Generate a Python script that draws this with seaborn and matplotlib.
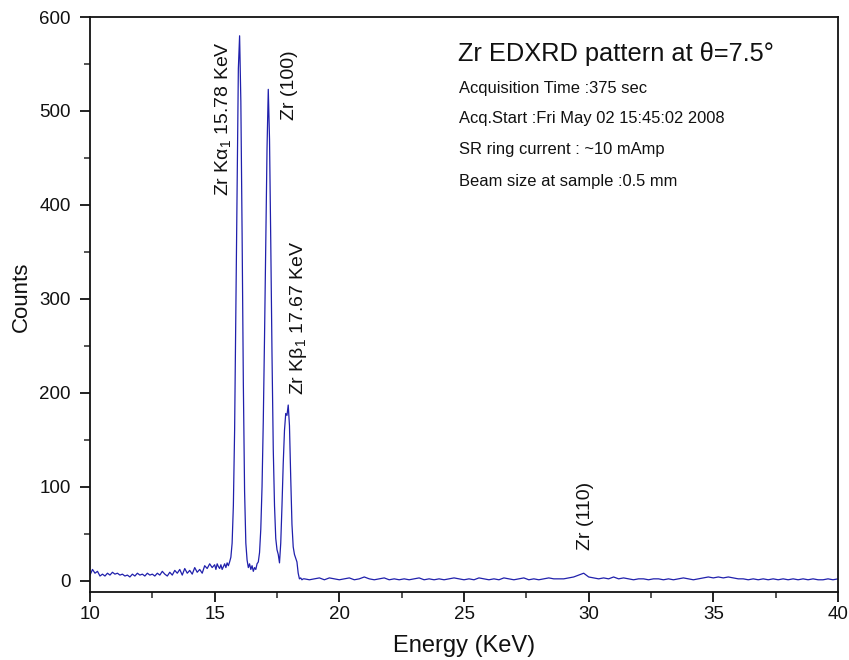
import matplotlib
matplotlib.use("Agg")
import matplotlib.pyplot as plt
from matplotlib.ticker import MultipleLocator
import seaborn as sns
import pandas as pd

# ---------------- data ----------------
energy_low = [10.0, 10.1, 10.2, 10.3, 10.4, 10.5, 10.6, 10.7, 10.8, 10.9,
              11.0, 11.1, 11.2, 11.3, 11.4, 11.5, 11.6, 11.7, 11.8, 11.9,
              12.0, 12.1, 12.2, 12.3, 12.4, 12.5, 12.6, 12.7, 12.8, 12.9,
              13.0, 13.1, 13.2, 13.3, 13.4, 13.5, 13.6, 13.7, 13.8, 13.9,
              14.0, 14.1, 14.2, 14.3, 14.4, 14.5, 14.6, 14.7, 14.8, 14.9,
              15.0]
counts_low = [6, 12, 8, 10, 5, 7, 5, 8, 6, 9,
              7, 8, 6, 7, 5, 6, 4, 7, 5, 8,
              6, 7, 5, 8, 6, 7, 5, 8, 6, 10,
              7, 5, 9, 6, 11, 8, 12, 6, 13, 8,
              11, 7, 14, 9, 12, 8, 16, 13, 18, 14,
              17]

energy_peak = [15.05, 15.10, 15.15, 15.20, 15.25, 15.30, 15.35, 15.40, 15.45, 15.50,
               15.55, 15.60, 15.65, 15.70, 15.75, 15.80, 15.85, 15.90, 15.95, 16.00,
               16.05, 16.10, 16.15, 16.20, 16.25, 16.30, 16.35, 16.40, 16.45, 16.50,
               16.55, 16.60, 16.65, 16.70, 16.75, 16.80, 16.85, 16.90, 16.95, 17.00,
               17.05, 17.10, 17.15, 17.20, 17.25, 17.30, 17.35, 17.40, 17.45, 17.50,
               17.55, 17.60, 17.65, 17.70, 17.75, 17.80, 17.85, 17.90, 17.95, 18.00,
               18.05, 18.10, 18.15, 18.20, 18.25, 18.30, 18.35, 18.40, 18.45, 18.50,
               18.55, 18.60]
counts_peak = [12, 18, 15, 13, 17, 12, 15, 18, 14, 19,
               16, 20, 25, 40, 80, 160, 290, 430, 545, 580,
               510, 370, 210, 95, 40, 22, 14, 18, 12, 16,
               10, 14, 12, 18, 20, 30, 55, 100, 170, 260,
               360, 460, 523, 470, 360, 240, 140, 80, 45, 33,
               28, 19, 40, 80, 125, 160, 178, 176, 187, 165,
               110, 60, 36, 28, 24, 20, 8, 2, 3, 1,
               2, 2]

energy_high = [18.8, 19.0, 19.2, 19.4, 19.6, 19.8, 20.0, 20.2, 20.4, 20.6,
               20.8, 21.0, 21.2, 21.4, 21.6, 21.8, 22.0, 22.2, 22.4, 22.6,
               22.8, 23.0, 23.2, 23.4, 23.6, 23.8, 24.0, 24.2, 24.4, 24.6,
               24.8, 25.0, 25.2, 25.4, 25.6, 25.8, 26.0, 26.2, 26.4, 26.6,
               26.8, 27.0, 27.2, 27.4, 27.6, 27.8, 28.0, 28.2, 28.4, 28.6,
               28.8, 29.0, 29.2, 29.4, 29.6, 29.8, 30.0, 30.2, 30.4, 30.6,
               30.8, 31.0, 31.2, 31.4, 31.6, 31.8, 32.0, 32.2, 32.4, 32.6,
               32.8, 33.0, 33.2, 33.4, 33.6, 33.8, 34.0, 34.2, 34.4, 34.6,
               34.8, 35.0, 35.2, 35.4, 35.6, 35.8, 36.0, 36.2, 36.4, 36.6,
               36.8, 37.0, 37.2, 37.4, 37.6, 37.8, 38.0, 38.2, 38.4, 38.6,
               38.8, 39.0, 39.2, 39.4, 39.6, 39.8, 40.0]
counts_high = [1, 2, 3, 1, 3, 2, 1, 2, 3, 1,
               2, 4, 2, 1, 2, 3, 1, 2, 1, 2,
               1, 2, 3, 1, 2, 1, 2, 1, 2, 3,
               2, 1, 2, 1, 3, 2, 1, 2, 1, 3,
               2, 1, 2, 3, 1, 2, 1, 2, 3, 2,
               2, 2, 3, 4, 6, 8, 4, 3, 2, 3,
               2, 4, 2, 3, 2, 1, 2, 2, 1, 2,
               2, 1, 2, 1, 2, 3, 2, 1, 2, 3,
               4, 3, 4, 3, 4, 3, 2, 2, 1, 2,
               1, 2, 1, 2, 1, 2, 1, 2, 1, 2,
               1, 2, 1, 1, 2, 1, 2]

x_ticks = [10, 15, 20, 25, 30, 35, 40]
y_ticks = [0, 100, 200, 300, 400, 500, 600]

info_title = "Zr EDXRD pattern at θ=7.5°"
info_lines = ["Acquisition Time :375 sec",
              "Acq.Start :Fri May 02 15:45:02 2008",
              "SR ring current : ~10 mAmp",
              "Beam size at sample :0.5 mm"]

peak_labels = ["Zr K$\\alpha_{1}$ 15.78 KeV", "Zr (100)",
               "Zr K$\\beta_{1}$ 17.67 KeV", "Zr (110)"]
peak_label_x = [15.35, 18.02, 18.37, 29.88]
peak_label_y = [410, 490, 198, 33]

# ---------------- plotting ----------------
sns.set_style("ticks")
plt.rcParams["font.family"] = ["Liberation Sans", "DejaVu Sans"]
plt.rcParams["mathtext.fontset"] = "custom"
plt.rcParams["mathtext.rm"] = "Liberation Sans"
plt.rcParams["mathtext.it"] = "Liberation Sans"
plt.rcParams["mathtext.default"] = "regular"

df = pd.DataFrame({
    "Energy": energy_low + energy_peak + energy_high,
    "Counts": counts_low + counts_peak + counts_high,
})

fig = plt.figure(figsize=(8.49, 6.6), dpi=100)
ax = fig.add_axes([90 / 849, 68 / 660, (838 - 90) / 849, (592 - 17) / 660])

sns.lineplot(data=df, x="Energy", y="Counts", ax=ax, color="#2020ac",
             linewidth=0.9, estimator=None, sort=False)

ax.set_xlim(10, 40)
ax.set_ylim(-12, 600)
ax.set_xticks(x_ticks)
ax.set_yticks(y_ticks)
ax.xaxis.set_minor_locator(MultipleLocator(2.5))
ax.yaxis.set_minor_locator(MultipleLocator(50))
ax.tick_params(which="major", direction="out", length=7, width=1.3,
               labelsize=13.5, colors="#111111")
ax.tick_params(which="minor", direction="out", length=4.5, width=1.1)
ax.tick_params(axis="y", which="major", pad=7)
ax.tick_params(axis="x", which="major", pad=3)
for s in ax.spines.values():
    s.set_visible(True)
    s.set_linewidth(1.3)
    s.set_color("#111111")

ax.set_xlabel("Energy (KeV)", fontsize=17, labelpad=9, color="#111111")
ax.set_ylabel("Counts", fontsize=16, color="#111111")
ax.yaxis.set_label_coords(-0.078, 0.513)

ax.text(24.76, 561, info_title, fontsize=18.3, va="center", ha="left",
        color="#111111")
info_y = [524, 492, 459, 425]
for t, yy in zip(info_lines, info_y):
    ax.text(24.8, yy, t, fontsize=11.9, va="center", ha="left", color="#111111")

for t, xx, yy in zip(peak_labels, peak_label_x, peak_label_y):
    ax.text(xx, yy, t, rotation=90, rotation_mode="anchor", ha="left",
            va="center", fontsize=14, color="#111111")

fig.savefig("out.png", dpi=100)
